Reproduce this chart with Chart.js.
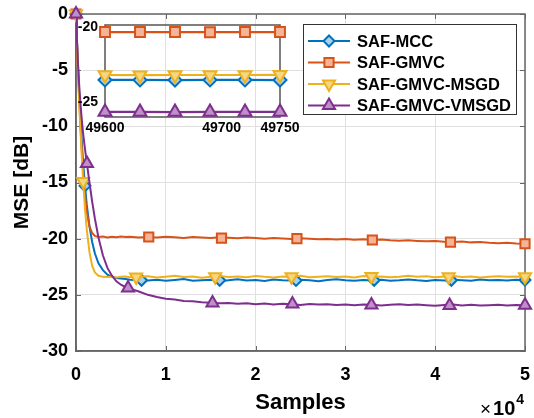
<!DOCTYPE html>
<html>
<head>
<meta charset="UTF-8">
<title>MSE curves</title>
<script src="https://cdn.jsdelivr.net/npm/chart.js"></script>
<style>
  body { margin: 0; background: #fff; }
  #wrap { position: relative; width: 534px; height: 418px; }
  #main { position: absolute; left: 0; top: 0; }
  #inset { position: absolute; left: 60px; top: 0; }
</style>
</head>
<body>
<div id="wrap">
  <canvas id="main" width="534" height="418"></canvas>
  <canvas id="inset" width="240" height="140"></canvas>
</div>
<script>
// sample positions of the main curves
const samples = [0, 100, 200, 300, 400, 500, 600, 700, 800, 1000, 1200, 1500, 1800, 2100, 2500, 3000, 3500, 4000, 4500, 5000, 5500, 6000, 7000,
  8000, 9000, 10000, 11000, 12000, 13000, 14000, 15000, 16000, 17000,
  18000, 19000, 20000, 21000, 22000, 23000, 24000, 25000, 26000, 27000,
  28000, 29000, 30000, 31000, 32000, 33000, 34000, 35000, 36000, 37000,
  38000, 39000, 40000, 41000, 42000, 43000, 44000, 45000, 46000, 47000,
  48000, 49000, 50000];

const mseMcc = [0, -2.1, -4.1, -6.0, -7.7, -9.3, -10.8, -12.1, -13.3, -15.3, -17.0, -18.9, -20.3, -21.3, -22.2, -22.8, -23.2, -23.4, -23.5, -23.55, -23.6, -23.65, -23.7,
  -23.72, -23.65, -23.75, -23.68, -23.6, -23.74, -23.7, -23.66, -23.78, -23.7,
  -23.62, -23.72, -23.69, -23.76, -23.64, -23.7, -23.73, -23.66, -23.71, -23.78,
  -23.68, -23.62, -23.7, -23.75, -23.67, -23.72, -23.66, -23.74, -23.7, -23.63,
  -23.71, -23.77, -23.69, -23.72, -23.66, -23.7, -23.75, -23.64, -23.71, -23.68,
  -23.73, -23.66, -23.7];

const mseGmvc = [0, -2.3, -4.5, -6.5, -8.3, -10.0, -11.5, -12.9, -14.1, -16.1, -17.6, -18.9, -19.5, -19.75, -19.85, -19.8, -19.9, -19.82, -19.88, -19.8, -19.86, -19.83, -19.9,
  -19.85, -19.9, -19.82, -19.88, -19.93, -19.86, -19.9, -19.95, -19.88, -19.92,
  -19.96, -19.9, -19.94, -20.0, -19.95, -19.98, -20.02, -19.97, -20.0, -20.05,
  -20.02, -20.07, -20.03, -20.1, -20.06, -20.12, -20.08, -20.14, -20.18, -20.15,
  -20.2, -20.24, -20.2, -20.28, -20.3, -20.26, -20.33, -20.3, -20.36, -20.4,
  -20.37, -20.42, -20.45];

const mseMsgd = [0, -2.4, -4.7, -6.8, -8.7, -10.4, -12.0, -13.5, -14.9, -17.3, -19.2, -21.2, -22.4, -23.0, -23.3, -23.4, -23.42, -23.38, -23.45, -23.4, -23.36, -23.44, -23.4,
  -23.35, -23.45, -23.38, -23.3, -23.42, -23.36, -23.47, -23.4, -23.33, -23.41,
  -23.37, -23.44, -23.32, -23.4, -23.46, -23.36, -23.41, -23.3, -23.43, -23.38,
  -23.34, -23.42, -23.37, -23.45, -23.32, -23.4, -23.36, -23.43, -23.38, -23.31,
  -23.4, -23.35, -23.44, -23.37, -23.33, -23.41, -23.36, -23.45, -23.39, -23.34,
  -23.4, -23.36, -23.38];

const mseVmsgd = [0, -2.2, -4.1, -5.6, -6.9, -8.0, -9.0, -9.9, -10.7, -12.0, -13.2, -15.0, -16.7, -18.2, -19.9, -21.5, -22.6, -23.3, -23.8, -24.1, -24.3, -24.45, -24.7,
  -25.0, -25.2, -25.35, -25.42, -25.55, -25.58, -25.66, -25.7, -25.74, -25.72,
  -25.8, -25.76, -25.83, -25.78, -25.86, -25.8, -25.84, -25.9, -25.82, -25.87,
  -25.83, -25.9, -25.86, -25.92, -25.85, -25.89, -25.95, -25.88, -25.84, -25.91,
  -25.87, -25.93, -25.98, -25.9, -25.86, -25.94, -25.89, -25.96, -25.92, -25.88,
  -25.94, -25.9, -25.93];

// marker positions (MATLAB draws markers only on a few samples)
const mccMarkX = [0, 1000, 7300, 16000, 24500, 33200, 41800, 50000];
const mccMarkY = [0, -15.3, -23.7, -23.7, -23.72, -23.7, -23.7, -23.68];
const gmvcMarkX = [0, 8100, 16200, 24600, 33000, 41700, 50000];
const gmvcMarkY = [0, -19.85, -19.95, -20.0, -20.12, -20.3, -20.45];
const msgdMarkX = [0, 800, 6700, 15500, 24000, 32900, 41500, 50000];
const msgdMarkY = [0, -14.9, -23.42, -23.38, -23.4, -23.36, -23.4, -23.38];
const vmsgdMarkX = [0, 1220, 5800, 15200, 24100, 32900, 41600, 50000];
const vmsgdMarkY = [0, -13.3, -24.4, -25.72, -25.82, -25.9, -25.95, -25.93];

// zoomed inset
const insetSamples = [49600, 49630, 49660, 49690, 49720, 49750];
const insetMcc = [-23.53, -23.53, -23.54, -23.53, -23.53, -23.54];
const insetGmvc = [-20.34, -20.34, -20.34, -20.35, -20.34, -20.34];
const insetMsgd = [-23.2, -23.21, -23.2, -23.2, -23.2, -23.19];
const insetVmsgd = [-25.66, -25.66, -25.67, -25.66, -25.66, -25.66];

const xTicksMain = [0, 10000, 20000, 30000, 40000, 50000];
const insetXTicks = [49600, 49700, 49750];
const insetYTicks = [-20, -25];

const FONT = '"Liberation Sans", Arial, Helvetica, sans-serif';
Chart.defaults.font.family = FONT;
Chart.defaults.color = '#000';

const series = [
  { nome: 'SAF-MCC',         cor: '#0072BD', fundo: '#a9d0ee', estilo: 'rectRot',  rot: 0,   r: 5.5, ri: 6.5 },
  { nome: 'SAF-GMVC',        cor: '#D95319', fundo: '#f3b497', estilo: 'rect',     rot: 0,   r: 6.5, ri: 7 },
  { nome: 'SAF-GMVC-MSGD',   cor: '#EDB120', fundo: '#f6d681', estilo: 'triangle', rot: 180, r: 7,   ri: 7.5 },
  { nome: 'SAF-GMVC-VMSGD',  cor: '#7E2F8E', fundo: '#bf8fc9', estilo: 'triangle', rot: 0,   r: 7,   ri: 7.5 }
];

const toXY = (xs, ys) => xs.map((x, i) => ({ x: x, y: ys[i] }));

function mainDatasets() {
  const linhas = [mseMcc, mseGmvc, mseMsgd, mseVmsgd];
  const mx = [mccMarkX, gmvcMarkX, msgdMarkX, vmsgdMarkX];
  const my = [mccMarkY, gmvcMarkY, msgdMarkY, vmsgdMarkY];
  const out = [];
  series.forEach((s, k) => {
    out.push({
      data: toXY(samples, linhas[k]),
      borderColor: s.cor, borderWidth: 2, pointRadius: 0,
      order: (3 - k) * 2 + 1
    });
    out.push({
      data: toXY(mx[k], my[k]),
      showLine: false, clip: false,
      pointStyle: s.estilo, pointRotation: s.rot, pointRadius: s.r,
      pointBorderWidth: 2, pointBorderColor: s.cor, pointBackgroundColor: s.fundo,
      order: (3 - k) * 2
    });
  });
  return out;
}

function insetDatasets() {
  const linhas = [insetMcc, insetGmvc, insetMsgd, insetVmsgd];
  return series.map((s, k) => ({
    data: toXY(insetSamples, linhas[k]),
    borderColor: s.cor, borderWidth: 2.2, clip: false,
    pointStyle: s.estilo, pointRotation: s.rot, pointRadius: s.ri,
    pointBorderWidth: 2, pointBorderColor: s.cor, pointBackgroundColor: s.fundo,
    order: 3 - k
  }));
}

function drawMarker(ctx, s, x, y) {
  const r = s.r;
  ctx.beginPath();
  if (s.estilo === 'rect') {
    const h = r * Math.SQRT1_2;
    ctx.rect(x - h, y - h, 2 * h, 2 * h);
  } else if (s.estilo === 'rectRot') {
    ctx.moveTo(x, y - r); ctx.lineTo(x + r, y); ctx.lineTo(x, y + r); ctx.lineTo(x - r, y); ctx.closePath();
  } else {
    let a = s.rot * Math.PI / 180;
    for (let i = 0; i < 3; i++) {
      const px = x + Math.sin(a) * r, py = y - Math.cos(a) * r;
      if (i === 0) ctx.moveTo(px, py); else ctx.lineTo(px, py);
      a += 2 * Math.PI / 3;
    }
    ctx.closePath();
  }
  ctx.fillStyle = s.fundo;
  ctx.fill();
  ctx.lineWidth = 2;
  ctx.strokeStyle = s.cor;
  ctx.stroke();
}

// kill the extra padding Chart.js adds for edge labels, the chart area is fixed by layout.padding
function semPadding(s) {
  s.paddingLeft = 0; s.paddingRight = 0; s.paddingTop = 0; s.paddingBottom = 0;
}

const moldura = {
  id: 'moldura',
  beforeDatasetsDraw(chart) {
    const { ctx, chartArea: a, scales: { x, y } } = chart;
    ctx.save();
    ctx.strokeStyle = '#666';
    ctx.lineWidth = 1.5;
    ctx.strokeRect(a.left, a.top, a.right - a.left, a.bottom - a.top);
    ctx.lineWidth = 1;
    ctx.beginPath();
    x.ticks.forEach(t => {
      const px = Math.round(x.getPixelForValue(t.value)) + 0.5;
      ctx.moveTo(px, a.bottom); ctx.lineTo(px, a.bottom - 5);
      ctx.moveTo(px, a.top); ctx.lineTo(px, a.top + 5);
    });
    y.ticks.forEach(t => {
      const py = Math.round(y.getPixelForValue(t.value)) + 0.5;
      ctx.moveTo(a.left, py); ctx.lineTo(a.left + 5, py);
      ctx.moveTo(a.right, py); ctx.lineTo(a.right - 5, py);
    });
    ctx.stroke();
    ctx.restore();
  },
  afterDatasetsDraw(chart) {
    const ctx = chart.ctx;
    ctx.save();
    // legend
    ctx.fillStyle = '#fff';
    ctx.fillRect(303, 24, 213, 90);
    ctx.strokeStyle = '#333';
    ctx.lineWidth = 1;
    ctx.strokeRect(303.5, 24.5, 213, 90);
    ctx.font = 'bold 16.5px ' + FONT;
    ctx.textBaseline = 'middle';
    series.forEach((s, i) => {
      const yy = 41 + i * 21.5;
      ctx.beginPath();
      ctx.moveTo(308, yy); ctx.lineTo(350, yy);
      ctx.strokeStyle = s.cor; ctx.lineWidth = 2; ctx.stroke();
      drawMarker(ctx, s, 329, yy);
      ctx.fillStyle = '#000';
      ctx.fillText(s.nome, 357, yy + 1);
    });
    // x10^4 exponent
    ctx.textBaseline = 'alphabetic';
    ctx.fillStyle = '#000';
    ctx.font = '19px ' + FONT;
    ctx.fillText('\u00d7', 480, 415);
    const w = ctx.measureText('\u00d7').width;
    ctx.font = 'bold 20px ' + FONT;
    ctx.fillText('10', 480 + w + 2, 415);
    const w2 = ctx.measureText('10').width;
    ctx.font = 'bold 14px ' + FONT;
    ctx.fillText('4', 480 + w + 3 + w2, 404);
    ctx.restore();
  }
};

const caixaInset = {
  id: 'caixaInset',
  beforeDatasetsDraw(chart) {
    const { ctx, chartArea: a } = chart;
    ctx.save();
    ctx.strokeStyle = '#555';
    ctx.lineWidth = 1.5;
    ctx.strokeRect(a.left, a.top, a.right - a.left, a.bottom - a.top);
    ctx.restore();
  }
};

new Chart(document.getElementById('main'), {
  type: 'line',
  data: { datasets: mainDatasets() },
  options: {
    responsive: false,
    animation: false,
    devicePixelRatio: 1,
    layout: { padding: { top: 14, right: 7, left: 0, bottom: 0 } },
    plugins: { legend: { display: false }, tooltip: { enabled: false } },
    scales: {
      x: {
        type: 'linear', min: 0, max: 50000,
        afterBuildTicks: s => { s.ticks = xTicksMain.map(v => ({ value: v })); },
        ticks: { callback: v => String(v / 10000), font: { size: 18, weight: 'bold' }, color: '#000', padding: 13, maxRotation: 0, autoSkip: false },
        grid: { color: '#e0e0e0', drawTicks: false },
        border: { color: '#666', width: 1.5 },
        title: { display: true, text: 'Samples', font: { size: 22, weight: 'bold' }, color: '#000', padding: { top: 0, bottom: 2 } },
        afterFit: s => { s.height = 67; semPadding(s); }
      },
      y: {
        min: -30, max: 0,
        ticks: { stepSize: 5, callback: v => String(v), font: { size: 18, weight: 'bold' }, color: '#000', padding: 8 },
        grid: { color: '#e0e0e0', drawTicks: false },
        border: { color: '#666', width: 1.5 },
        title: { display: true, text: 'MSE [dB]', font: { size: 21, weight: 'bold' }, color: '#000', padding: { top: 10, bottom: 0 } },
        afterFit: s => { s.width = 76; semPadding(s); }
      }
    }
  },
  plugins: [moldura]
});

new Chart(document.getElementById('inset'), {
  type: 'line',
  data: { datasets: insetDatasets() },
  options: {
    responsive: false,
    animation: false,
    devicePixelRatio: 1,
    layout: { padding: { top: 25, right: 20, left: 0, bottom: 0 } },
    plugins: { legend: { display: false }, tooltip: { enabled: false } },
    scales: {
      x: {
        type: 'linear', min: 49600, max: 49750,
        afterBuildTicks: s => { s.ticks = insetXTicks.map(v => ({ value: v })); },
        ticks: { callback: v => String(v), font: { size: 14, weight: 'bold' }, color: '#000', padding: 3, maxRotation: 0, autoSkip: false },
        grid: { display: false, drawTicks: false },
        border: { display: false },
        afterFit: s => { s.height = 23; semPadding(s); }
      },
      y: {
        min: -26, max: -19.87,
        afterBuildTicks: s => { s.ticks = insetYTicks.map(v => ({ value: v })); },
        ticks: { callback: v => String(v), font: { size: 14, weight: 'bold' }, color: '#000', padding: 7, autoSkip: false },
        grid: { display: false, drawTicks: false },
        border: { display: false },
        afterFit: s => { s.width = 45; semPadding(s); }
      }
    }
  },
  plugins: [caixaInset]
});
</script>
</body>
</html>
